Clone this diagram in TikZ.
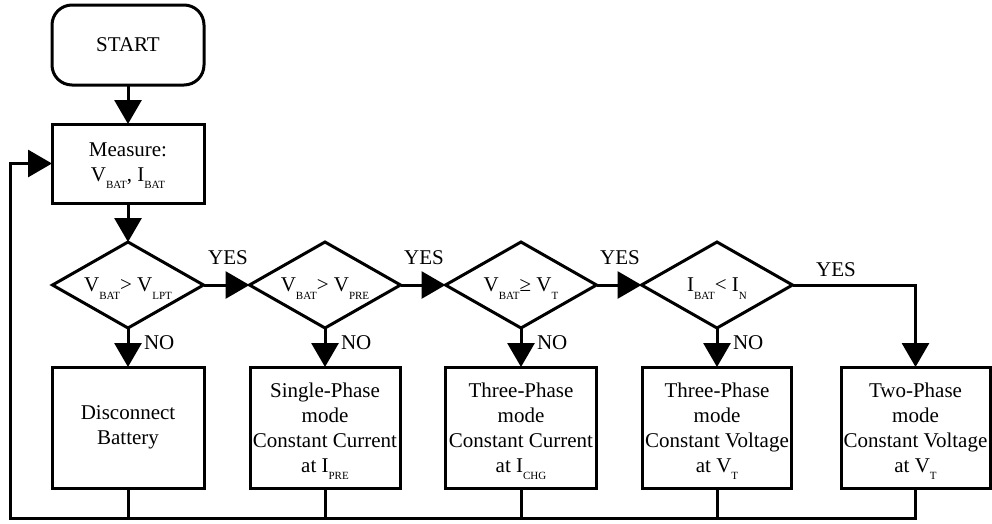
\documentclass[tikz,border=0pt]{standalone}
\usepackage{fontspec}
\setmainfont{Liberation Serif}
\usetikzlibrary{arrows.meta,shapes.geometric}
\newcommand{\sbs}[1]{\raisebox{-7.5pt}[0pt][0pt]{\fontsize{11}{11}\selectfont #1}}
\begin{document}
\begin{tikzpicture}[x=1pt,y=-1pt, line width=3pt, font=\fontsize{21}{25}\selectfont,
  every node/.style={outer sep=0pt},
  box/.style={draw, rectangle, inner sep=0pt, align=center},
  dec/.style={draw, diamond, aspect=1.75, inner sep=0pt, minimum width=151pt, minimum height=86pt},
  arr/.style={-{Triangle[width=27pt,length=24pt]}},
  lbl/.style={inner sep=0pt}]
\useasboundingbox (0,0) rectangle (992,523);

% nodes
\node[box, rounded corners=20pt, minimum width=152pt, minimum height=80pt] (start) at (128,45) {START};
\node[box, minimum width=152pt, minimum height=79pt] (meas) at (128,163.5) {Measure:\\V\sbs{BAT}, I\sbs{BAT}};

\node[dec] (d1) at (128,285) {V\sbs{BAT}> V\sbs{LPT}};
\node[dec] (d2) at (325,285) {V\sbs{BAT}> V\sbs{PRE}};
\node[dec] (d3) at (521,285) {V\sbs{BAT}≥ V\sbs{T}};
\node[dec] (d4) at (717,285) {I\sbs{BAT}< I\sbs{N}};

\node[box, minimum width=152pt, minimum height=121pt] (b1) at (128,427.5) {Disconnect\\Battery};
\node[box, minimum width=150pt, minimum height=121pt] (b2) at (325,427.5) {Single-Phase\\mode\\Constant Current\\at I\sbs{PRE}};
\node[box, minimum width=151pt, minimum height=121pt] (b3) at (521,427.5) {Three-Phase\\mode\\Constant Current\\at I\sbs{CHG}};
\node[box, minimum width=149pt, minimum height=121pt] (b4) at (717,427.5) {Three-Phase\\mode\\Constant Voltage\\at V\sbs{T}};
\node[box, minimum width=149pt, minimum height=121pt] (b5) at (915.5,427.5) {Two-Phase\\mode\\Constant Voltage\\at V\sbs{T}};

% labels
\node[lbl] (y1) at (228,258) {YES};
\node[lbl] (y2) at (424,258) {YES};
\node[lbl] (y3) at (620,258) {YES};
\node[lbl] (y4) at (836,270) {YES};
\node[lbl, anchor=west] (n1) at (144,343) {NO};
\node[lbl, anchor=west] (n2) at (341,343) {NO};
\node[lbl, anchor=west] (n3) at (537,343) {NO};
\node[lbl, anchor=west] (n4) at (733,343) {NO};

% connectors
\draw[arr] (start) -- (meas);
\draw[arr] (meas) -- (d1);
\draw[arr] (d1) -- (d2);
\draw[arr] (d2) -- (d3);
\draw[arr] (d3) -- (d4);
\draw[arr] (d1) -- (b1);
\draw[arr] (d2) -- (b2);
\draw[arr] (d3) -- (b3);
\draw[arr] (d4) -- (b4);
\draw[arr] (d4.east) -| (b5.north);

\coordinate (bl) at (10,518);
\draw[arr] (b5.south) |- (bl) |- (meas.west);
\draw (b1.south) -- (b1.south |- bl);
\draw (b2.south) -- (b2.south |- bl);
\draw (b3.south) -- (b3.south |- bl);
\draw (b4.south) -- (b4.south |- bl);
\end{tikzpicture}
\end{document}
